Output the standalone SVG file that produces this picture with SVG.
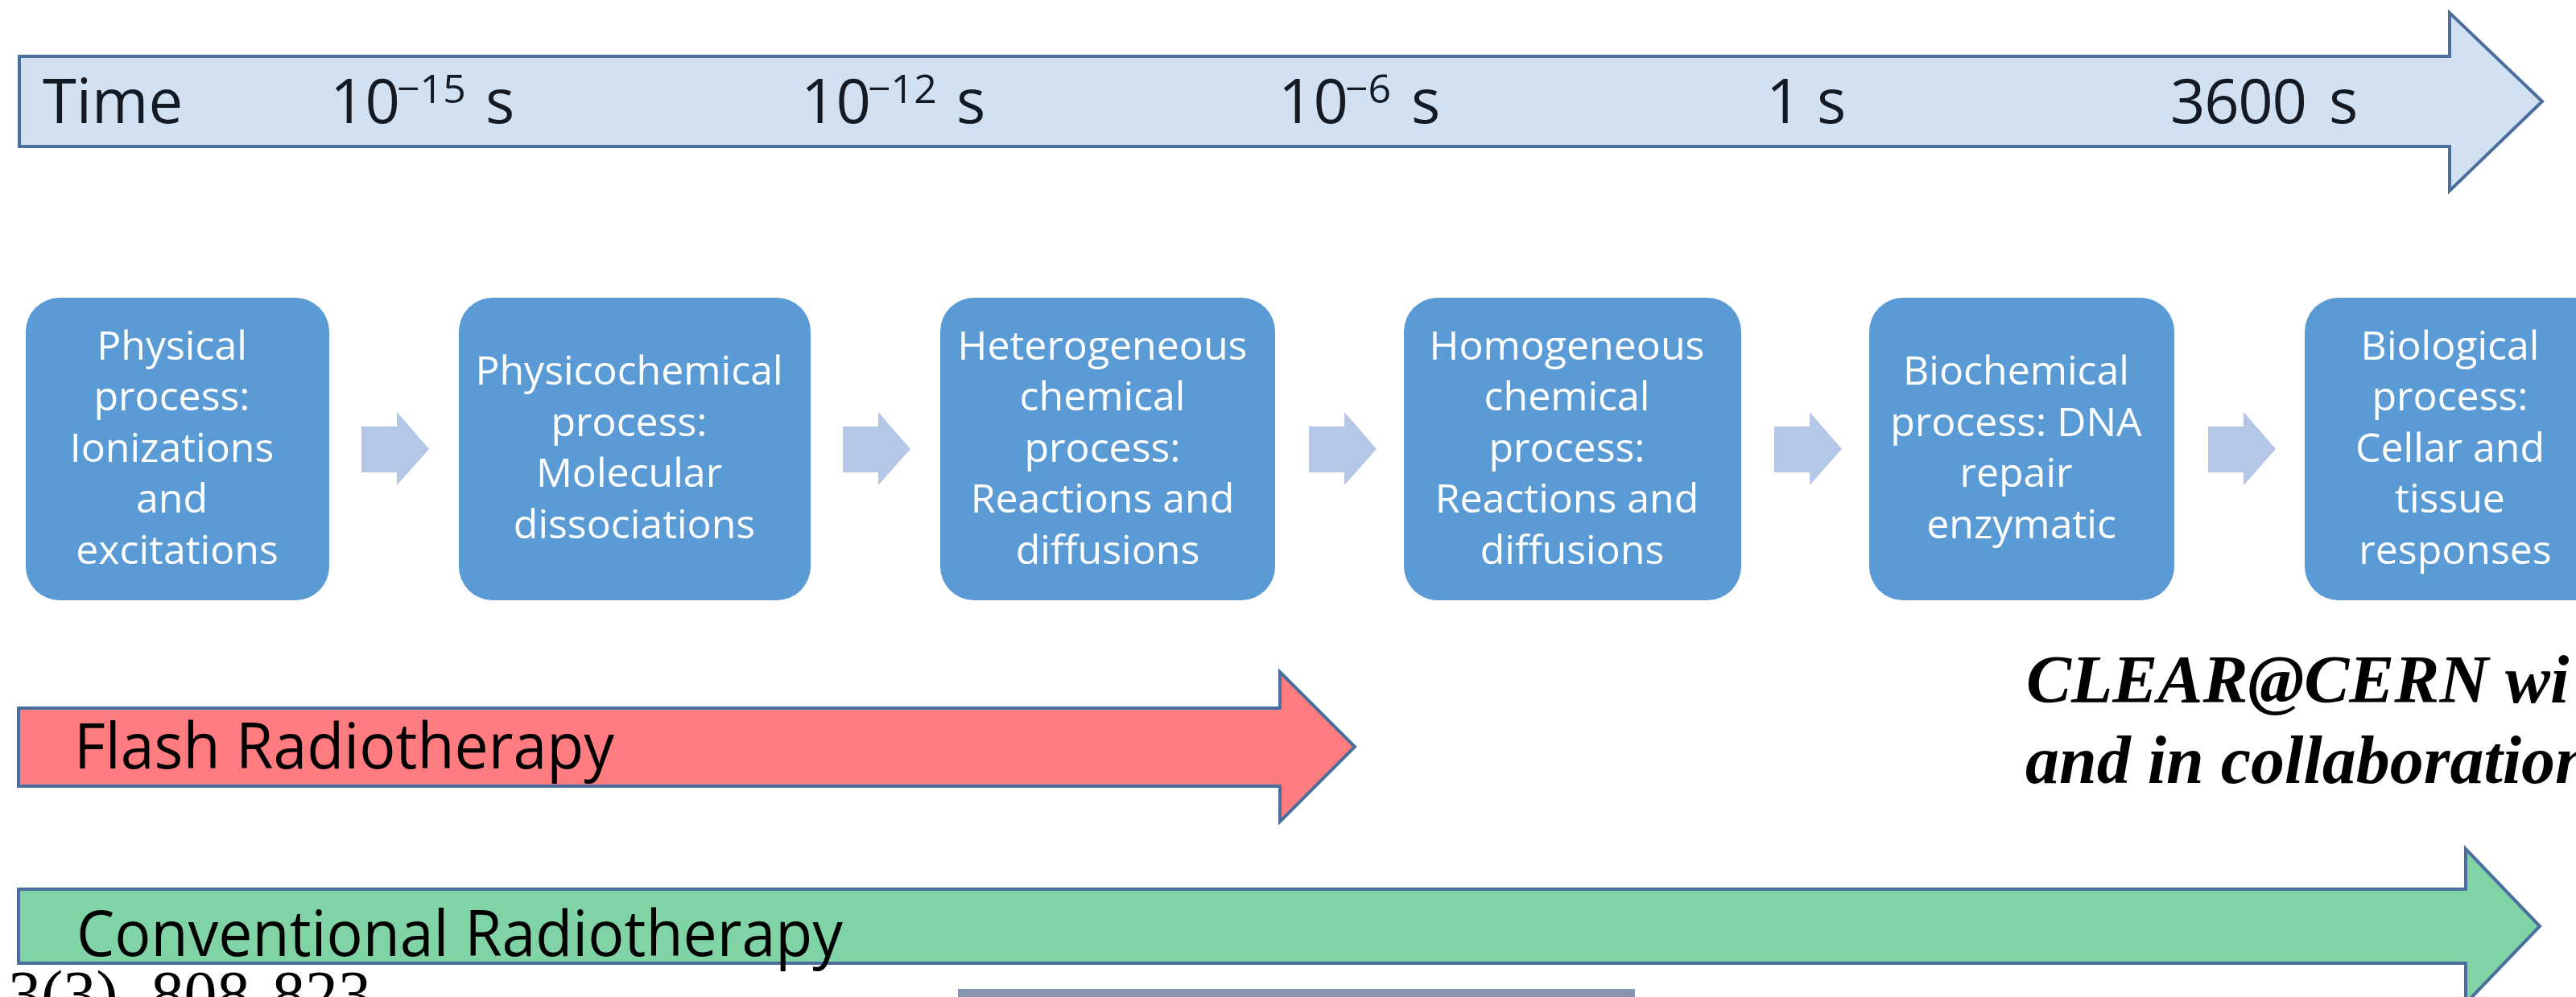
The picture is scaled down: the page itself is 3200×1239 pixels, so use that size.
<svg xmlns="http://www.w3.org/2000/svg" width="3200" height="1239" viewBox="0 0 3200 1239">
  <style>
    .band { stroke: #4a6f9f; stroke-width: 4; stroke-linejoin: miter; }
    .band-time { fill: #d2e1f2; }
    .band-flash { fill: #ff7c80; }
    .band-conv { fill: #7fd3a5; }
    .axis { font-family: 'Open Sans', 'Liberation Sans', sans-serif; font-size: 76px; fill: #141a24; }
    .sup { font-size: 50px; }
    .band-label { font-family: 'Open Sans', 'Liberation Sans', sans-serif; font-size: 78px; fill: #000; }
    .box { fill: #5b9bd5; }
    .box-text { font-family: 'Open Sans', 'Liberation Sans', sans-serif; font-size: 50px; fill: #ffffff; text-anchor: middle; }
    .step { fill: #b4c7e7; }
    .note { font-family: 'Liberation Serif', 'Times New Roman', serif; font-size: 84px; font-weight: bold; font-style: italic; fill: #000; }
    .cite { font-family: 'Liberation Serif', 'Times New Roman', serif; font-size: 82px; fill: #000; }
  </style>

  <rect width="3200" height="1239" fill="#ffffff"/>

  <!-- Time axis -->
  <g id="time-axis">
    <polygon class="band band-time" points="24,70 3043,70 3043,16 3158,126 3043,237 3043,182 24,182"/>
    <text class="axis" x="53" y="153">Time</text>
    <text class="axis"><tspan x="410" y="153">10</tspan><tspan class="sup" x="493" y="128">−15</tspan><tspan x="603" y="153">s</tspan></text>
    <text class="axis"><tspan x="995" y="153">10</tspan><tspan class="sup" x="1078" y="128">−12</tspan><tspan x="1188" y="153">s</tspan></text>
    <text class="axis"><tspan x="1588" y="153">10</tspan><tspan class="sup" x="1671" y="128">−6</tspan><tspan x="1753" y="153">s</tspan></text>
    <text class="axis"><tspan x="2194" y="153">1</tspan><tspan x="2257" y="153">s</tspan></text>
    <text class="axis"><tspan x="2696" y="153" textLength="170">3600</tspan><tspan x="2893" y="153">s</tspan></text>
  </g>

  <!-- Process stages -->
  <g id="stage-physical">
    <rect class="box" x="32" y="370" width="377" height="376" rx="42"/>
    <text class="box-text">
      <tspan x="220" y="447">Physical</tspan>
      <tspan x="220" y="510">process:</tspan>
      <tspan x="220" y="574">Ionizations</tspan>
      <tspan x="220" y="637">and</tspan>
      <tspan x="220" y="701">excitations</tspan>
    </text>
  </g>
  <g id="stage-physicochemical">
    <rect class="box" x="570" y="370" width="437" height="376" rx="42"/>
    <text class="box-text">
      <tspan x="788" y="478">Physicochemical</tspan>
      <tspan x="788" y="542">process:</tspan>
      <tspan x="788" y="605">Molecular</tspan>
      <tspan x="788" y="669">dissociations</tspan>
    </text>
  </g>
  <g id="stage-heterogeneous">
    <rect class="box" x="1168" y="370" width="416" height="376" rx="42"/>
    <text class="box-text">
      <tspan x="1376" y="447">Heterogeneous</tspan>
      <tspan x="1376" y="510">chemical</tspan>
      <tspan x="1376" y="574">process:</tspan>
      <tspan x="1376" y="637">Reactions and</tspan>
      <tspan x="1376" y="701">diffusions</tspan>
    </text>
  </g>
  <g id="stage-homogeneous">
    <rect class="box" x="1744" y="370" width="419" height="376" rx="42"/>
    <text class="box-text">
      <tspan x="1953" y="447">Homogeneous</tspan>
      <tspan x="1953" y="510">chemical</tspan>
      <tspan x="1953" y="574">process:</tspan>
      <tspan x="1953" y="637">Reactions and</tspan>
      <tspan x="1953" y="701">diffusions</tspan>
    </text>
  </g>
  <g id="stage-biochemical">
    <rect class="box" x="2322" y="370" width="379" height="376" rx="42"/>
    <text class="box-text">
      <tspan x="2511" y="478">Biochemical</tspan>
      <tspan x="2511" y="542">process: DNA</tspan>
      <tspan x="2511" y="605">repair</tspan>
      <tspan x="2511" y="669">enzymatic</tspan>
    </text>
  </g>
  <g id="stage-biological">
    <rect class="box" x="2863" y="370" width="374" height="376" rx="42"/>
    <text class="box-text">
      <tspan x="3050" y="447">Biological</tspan>
      <tspan x="3050" y="510">process:</tspan>
      <tspan x="3050" y="574">Cellar and</tspan>
      <tspan x="3050" y="637">tissue</tspan>
      <tspan x="3050" y="701">responses</tspan>
    </text>
  </g>

  <!-- Step arrows between stages -->
  <g id="connectors">
    <polygon class="step" points="449,530 493,530 493,512 533,558 493,603 493,587 449,587"/>
    <polygon class="step" points="1047,530 1091,530 1091,512 1131,558 1091,603 1091,587 1047,587"/>
    <polygon class="step" points="1626,530 1670,530 1670,512 1710,558 1670,603 1670,587 1626,587"/>
    <polygon class="step" points="2204,530 2248,530 2248,512 2288,558 2248,603 2248,587 2204,587"/>
    <polygon class="step" points="2743,530 2787,530 2787,512 2827,558 2787,603 2787,587 2743,587"/>
  </g>

  <!-- Flash radiotherapy span -->
  <g id="flash-radiotherapy">
    <polygon class="band band-flash" points="23,880 1590,880 1590,835 1683,928 1590,1021 1590,977 23,977"/>
    <text class="band-label" x="92" y="955" textLength="671" lengthAdjust="spacingAndGlyphs">Flash Radiotherapy</text>
  </g>

  <!-- Conventional radiotherapy span -->
  <g id="conventional-radiotherapy">
    <polygon class="band band-conv" points="23,1105 3063,1105 3063,1055 3155,1151 3063,1247 3063,1197 23,1197"/>
    <text class="band-label" x="95" y="1188" textLength="952" lengthAdjust="spacingAndGlyphs">Conventional Radiotherapy</text>
  </g>

  <!-- Side note and page fragments -->
  <g id="note">
    <text class="note" x="2517" y="873">CLEAR@CERN wi</text>
    <text class="note" x="2516" y="973">and in collaboration</text>
  </g>
  <text class="cite" x="10" y="1263">3(3), 808-823</text>
  <rect x="1190" y="1229" width="841" height="10" fill="#8695ad"/>
</svg>
